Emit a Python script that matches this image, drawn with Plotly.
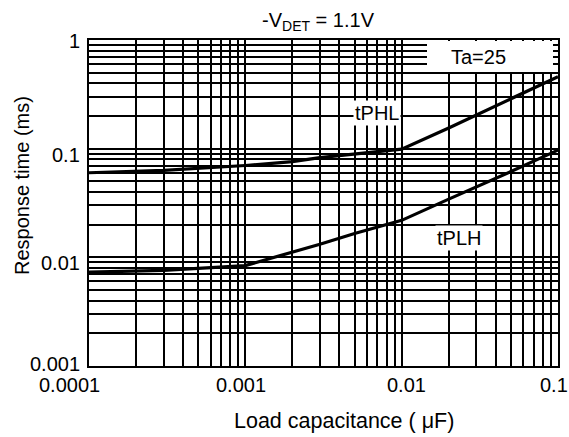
import math
import plotly.graph_objects as go

# Data (log-log chart)
load_cap_uF = [0.0001, 0.0003, 0.001, 0.002, 0.003, 0.005, 0.01, 0.02, 0.03, 0.05, 0.1]
tphl_ms = [0.060, 0.063, 0.070, 0.076, 0.0826, 0.089, 0.099, 0.155, 0.204, 0.288, 0.46]
tplh_ms = [0.0073, 0.0076, 0.0084, 0.0111, 0.0132, 0.0166, 0.0219, 0.0343, 0.0442, 0.0617, 0.097]

x_tickvals = [0.0001, 0.001, 0.01, 0.1]
x_ticktext = ["0.0001", "0.001", "0.01", "0.1"]
y_tickvals = [0.001, 0.01, 0.1, 1]
y_ticktext = ["0.001", "0.01", "0.1", "1"]

# small pixel nudges of the tick labels, as in the reference
x_label_shift = [-20, -4, 5, -4]
y_label_shift = [2, -6, -6, -1]

FONT = "Arial, Liberation Sans, Helvetica, sans-serif"
FS = 20

W, H = 569, 437
L, R, T, B = 89, 11, 40, 71

def minor_vals(lo_exp, hi_exp):
    return [m * 10 ** e for e in range(lo_exp, hi_exp) for m in range(2, 10)]

fig = go.Figure()
fig.add_trace(go.Scatter(x=load_cap_uF, y=tphl_ms, mode="lines", name="tPHL",
                         line=dict(color="black", width=3.2)))
fig.add_trace(go.Scatter(x=load_cap_uF, y=tplh_ms, mode="lines", name="tPLH",
                         line=dict(color="black", width=3.2)))

grid = dict(showgrid=True, gridcolor="black", gridwidth=1.7)
fig.update_xaxes(type="log", range=[-4, -1], tickvals=x_tickvals, ticktext=x_ticktext,
                 showticklabels=False,
                 showline=True, linecolor="black", linewidth=2, mirror=True,
                 ticks="", automargin=False,
                 minor=dict(tickvals=minor_vals(-4, -1), showgrid=True, gridcolor="black", gridwidth=1.7),
                 **grid)
fig.update_yaxes(type="log", range=[-3, 0], tickvals=y_tickvals, ticktext=y_ticktext,
                 showticklabels=False,
                 showline=True, linecolor="black", linewidth=2, mirror=True,
                 ticks="", automargin=False,
                 minor=dict(tickvals=minor_vals(-3, 0), showgrid=True, gridcolor="black", gridwidth=1.7),
                 **grid)

pw = W - L - R
ph = H - T - B
def px(xp):
    return (xp - L) / pw
def py(yp):
    return 1 - (yp - T) / ph

tf = dict(family=FONT, size=FS, color="black")

# tick labels placed on the axis scale
for v, t, s in zip(x_tickvals, x_ticktext, x_label_shift):
    fig.add_annotation(x=math.log10(v), xref="x", y=py(385), yref="paper", text=t,
                       showarrow=False, xanchor="center", yanchor="middle",
                       xshift=s, font=tf)
for v, t, s in zip(y_tickvals, y_ticktext, y_label_shift):
    fig.add_annotation(y=math.log10(v), yref="y", x=px(82), xref="paper", text=t,
                       showarrow=False, xanchor="right", yanchor="middle",
                       yshift=s, font=tf)

# white box for the Ta=25 label
fig.add_shape(type="rect", xref="paper", yref="paper",
              x0=px(427), x1=px(553), y0=py(72), y1=py(41),
              fillcolor="white", line=dict(width=0), layer="above")

annos = [
    dict(text="Ta=25", x=px(478), y=py(57), font=tf),
    dict(text="tPHL", x=px(377), y=py(113), bgcolor="white", borderpad=1, font=tf),
    dict(text="tPLH", x=px(459), y=py(238), bgcolor="white", borderpad=1, font=tf),
    dict(text="Load capacitance ( μF)", x=px(344), y=py(421),
         font=dict(family=FONT, size=21.5, color="black")),
    dict(text="Response time (ms)", x=px(22), y=py(186), textangle=-90, font=tf),
]
for a in annos:
    fig.add_annotation(xref="paper", yref="paper", showarrow=False,
                       xanchor="center", yanchor="middle", **a)

fig.update_layout(
    width=W, height=H,
    margin=dict(l=L, r=R, t=T, b=B, autoexpand=False),
    plot_bgcolor="white", paper_bgcolor="white",
    showlegend=False,
    title=dict(text="-V<sub>DET</sub> = 1.1V", x=px(318), xref="paper",
               y=1 - 20 / H, yref="container", xanchor="center", yanchor="middle",
               font=tf),
)

fig.write_html("out.html", config={"displayModeBar": False},
               post_script="document.body.style.margin='0';document.body.style.padding='0';")
